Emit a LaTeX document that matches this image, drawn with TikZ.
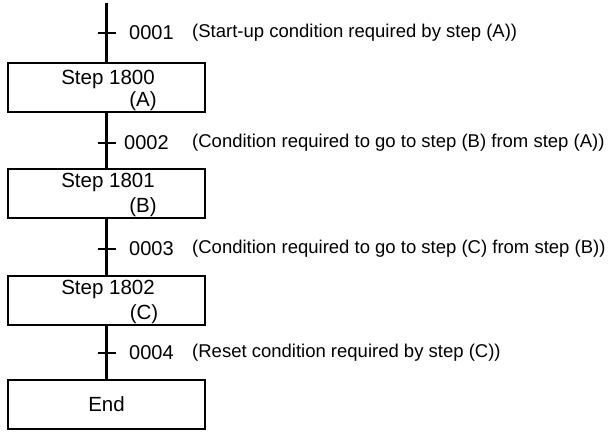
\documentclass[tikz,border=0pt]{standalone}
\usepackage{fontspec}
\setmainfont{Liberation Sans}
\usetikzlibrary{positioning}
\tikzset{stepbox/.style={draw, line width=2pt, minimum width=197pt, minimum height=49pt, inner sep=0pt},
  boxtext/.style={inner sep=0pt, font=\fontsize{20.5}{24}\selectfont},
  condnum/.style={anchor=west, inner sep=0pt, font=\fontsize{20}{24}\selectfont},
  condtext/.style={anchor=west, inner sep=0pt, font=\fontsize{18.5}{22}\selectfont},
  flow/.style={line width=2.2pt},
  ticker/.style={line width=1.8pt}}

\begin{document}
\begin{tikzpicture}[x=1pt, y=-1pt]
\useasboundingbox (0,0) rectangle (609,431);
\coordinate (top) at (106.5,3);
\node[stepbox] (s1800) at (106.5,87) {};
\node[stepbox] (s1801) at (106.5,193) {};
\node[stepbox] (s1802) at (106.5,300) {};
\node[stepbox] (send) at (106.5,404) {};
\node[boxtext] (l1800) at (108,79) {Step 1800};
\node[boxtext] (a1800) at (143,101) {(A)};
\node[boxtext] (l1801) at (108,182.5) {Step 1801};
\node[boxtext] (a1801) at (143,207) {(B)};
\node[boxtext] (l1802) at (108,289.5) {Step 1802};
\node[boxtext] (a1802) at (144,314) {(C)};
\node[boxtext] (lend) at (106.5,404) {End};
\draw[flow] (top) -- (s1800);
\draw[flow] (s1800) -- (s1801);
\draw[flow] (s1801) -- (s1802);
\draw[flow] (s1802) -- (send);
% transition conditions
\coordinate (t1) at (106.5,33);
\coordinate (t2) at (106.5,143);
\coordinate (t3) at (106.5,249);
\coordinate (t4) at (106.5,353);
\draw[ticker] ([xshift=-9pt]t1) -- ([xshift=9pt]t1);
\draw[ticker] ([xshift=-9pt]t2) -- ([xshift=9pt]t2);
\draw[ticker] ([xshift=-9pt]t3) -- ([xshift=9pt]t3);
\draw[ticker] ([xshift=-9pt]t4) -- ([xshift=9pt]t4);
\node[condnum] (n1) at (129,33) {0001};
\node[condnum] (n2) at (124,143) {0002};
\node[condnum] (n3) at (129,249) {0003};
\node[condnum] (n4) at (129,353) {0004};
\node[condtext] (c1) at (192,33) {(Start-up condition required by step (A))};
\node[condtext] (c2) at (192,143) {(Condition required to go to step (B) from step (A))};
\node[condtext] (c3) at (192,249) {(Condition required to go to step (C) from step (B))};
\node[condtext] (c4) at (192,353) {(Reset condition required by step (C))};
\end{tikzpicture}
\end{document}
